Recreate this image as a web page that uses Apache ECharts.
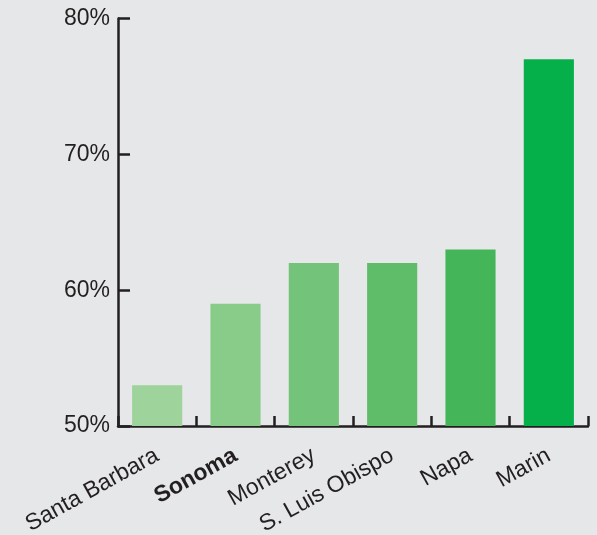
<!DOCTYPE html>
<html>
<head>
<meta charset="utf-8">
<script src="https://cdn.jsdelivr.net/npm/echarts@6/dist/echarts.min.js"></script>
<style>
html,body{margin:0;padding:0;background:#e6e7e8;}
#c{width:597px;height:535px;}
</style>
</head>
<body>
<div id="c"></div>
<script>
const categories = ['Santa Barbara', 'Sonoma', 'Monterey', 'S. Luis Obispo', 'Napa', 'Marin'];
const values = [53, 59, 62, 62, 63, 77];
const barColors = ['#9ed39b', '#89cb89', '#74c37a', '#5fbd6a', '#45b55a', '#05b04a'];
const yTicks = [50, 60, 70, 80];
const highlight = 'Sonoma';

const chart = echarts.init(document.getElementById('c'));
const axisColor = '#231f20';
const ff = 'Liberation Sans, Arial, sans-serif';
chart.setOption({
  backgroundColor: '#e6e7e8',
  animation: false,
  grid: {left: 118, right: 9, top: 18.5, bottom: 109, containLabel: false, outerBoundsMode: 'none'},
  xAxis: {
    type: 'category',
    data: categories,
    axisLine: {lineStyle: {color: axisColor, width: 2.5}},
    axisTick: {show: true, inside: true, length: 10, lineStyle: {color: axisColor, width: 2.5}},
    axisLabel: {
      rotate: 29, margin: 28, fontSize: 23, color: axisColor, fontFamily: ff,
      interval: 0, hideOverlap: false,
      formatter: v => v === highlight ? '{b|' + v + '}' : v,
      rich: {b: {fontWeight: 'bold', fontSize: 23, color: axisColor, fontFamily: ff}}
    }
  },
  yAxis: {
    type: 'value',
    min: yTicks[0], max: yTicks[yTicks.length - 1], interval: 10,
    axisLine: {show: true, lineStyle: {color: axisColor, width: 2.5}},
    axisTick: {show: true, inside: true, length: 12, lineStyle: {color: axisColor, width: 2.5}},
    splitLine: {show: false},
    axisLabel: {formatter: '{value}%', fontSize: 23, color: axisColor, margin: 8, fontFamily: ff}
  },
  series: [{
    type: 'bar',
    barCategoryGap: '36%',
    data: values.map((v, i) => ({value: v, itemStyle: {color: barColors[i]}}))
  }]
});
</script>
</body>
</html>
